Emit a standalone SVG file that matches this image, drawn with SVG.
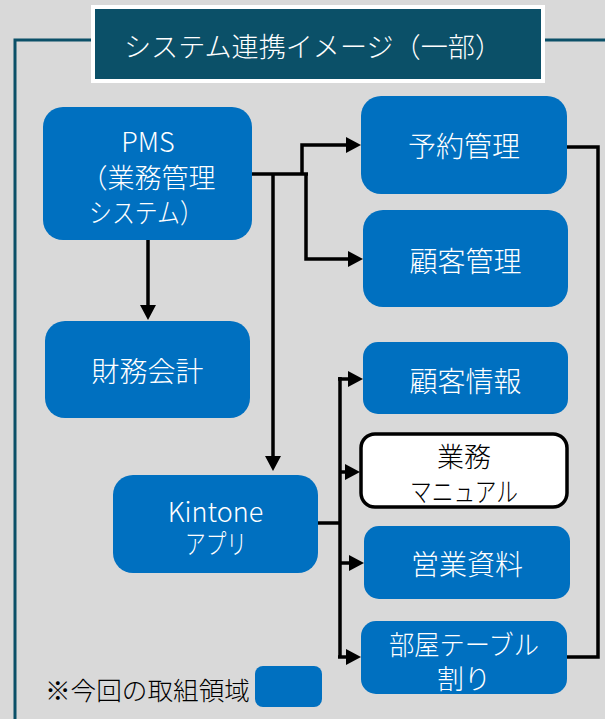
<svg xmlns="http://www.w3.org/2000/svg" width="605" height="719" viewBox="0 0 605 719">
<style>
.bg{fill:#d9d9d9}
.frame{fill:none;stroke:#0b5068;stroke-width:3}
.title{fill:#0b5068;stroke:#ffffff;stroke-width:4}
.node{fill:#0070c0}
.nodew{fill:#ffffff;stroke:#000000;stroke-width:3.5}
.t{font-family:"Noto Sans CJK JP","Noto Sans",sans-serif;font-weight:300;text-anchor:middle;dominant-baseline:central}
.tw{fill:#ffffff;font-size:28px}
.tw2{fill:#ffffff;font-size:27px}
.tb{fill:#000000;font-size:27px}
.tt{fill:#ffffff;font-size:27.5px}
.leg{font-family:"Noto Sans CJK JP","Noto Sans",sans-serif;font-weight:300;font-size:25px;fill:#000000;dominant-baseline:central}
.c{fill:none;stroke:#000000;stroke-width:3.5}
.ca{fill:none;stroke:#000000;stroke-width:3.5;marker-end:url(#arr)}
</style>
<defs>
<marker id="arr" markerUnits="userSpaceOnUse" viewBox="0 0 15 16" markerWidth="15" markerHeight="16" refX="5" refY="8" orient="auto">
<path d="M0,0 L15,8 L0,16 Z" fill="#000000"/>
</marker>
</defs>
<rect class="bg" x="0" y="0" width="605" height="719"/>
<g id="frame">
<path class="frame" d="M93,40 H15 V719"/>
<path class="frame" d="M545,40 H605"/>
</g>
<g id="title">
<rect class="title" x="93" y="7" width="450" height="74"/>
<text class="t tt" x="313" y="45" textLength="378" lengthAdjust="spacingAndGlyphs">システム連携イメージ（一部）</text>
</g>
<g id="connectors">
<path class="c" d="M252,174 H308"/>
<path class="ca" d="M302,174 V145 H351"/>
<path class="ca" d="M306,174 V259 H353"/>
<path class="ca" d="M273,174 V461"/>
<path class="ca" d="M148,240 V310"/>
<path class="c" d="M567,147 H598 V657 H567"/>
<path class="c" d="M318,523 H340"/>
<path class="c" d="M340,377 V658"/>
<path class="ca" d="M338,379 H353"/>
<path class="ca" d="M340,472 H350"/>
<path class="ca" d="M340,563 H354"/>
<path class="ca" d="M338,657 H351"/>
</g>
<g id="pms">
<rect class="node" x="43" y="107" width="209" height="133" rx="20"/>
<text class="t tw2" x="148" y="140">PMS</text>
<text class="t tw2" x="148" y="176">（業務管理</text>
<text class="t tw2" x="146" y="211" textLength="114" lengthAdjust="spacingAndGlyphs">システム）</text>
</g>
<g id="zaimu">
<rect class="node" x="45" y="321" width="205" height="97" rx="20"/>
<text class="t tw" x="147.5" y="370">財務会計</text>
</g>
<g id="kintone">
<rect class="node" x="113" y="475" width="205" height="98" rx="20"/>
<text class="t tw2" x="215.5" y="510">Kintone</text>
<text class="t tw2" x="216" y="542" textLength="62" lengthAdjust="spacingAndGlyphs">アプリ</text>
</g>
<g id="yoyaku">
<rect class="node" x="361" y="96" width="206" height="98" rx="20"/>
<text class="t tw" x="464" y="145">予約管理</text>
</g>
<g id="kokyaku-kanri">
<rect class="node" x="363" y="210" width="205" height="97" rx="20"/>
<text class="t tw" x="465.5" y="260">顧客管理</text>
</g>
<g id="kokyaku-joho">
<rect class="node" x="363" y="342" width="205" height="72" rx="15"/>
<text class="t tw" x="465.5" y="380">顧客情報</text>
</g>
<g id="manual">
<rect class="nodew" x="361" y="434" width="206" height="73" rx="14"/>
<text class="t tb" x="464" y="455">業務</text>
<text class="t tb" x="464" y="490" textLength="108" lengthAdjust="spacingAndGlyphs">マニュアル</text>
</g>
<g id="eigyo">
<rect class="node" x="364" y="526" width="206" height="73" rx="15"/>
<text class="t tw" x="467" y="563">営業資料</text>
</g>
<g id="heya">
<rect class="node" x="361" y="621" width="206" height="73" rx="15"/>
<text class="t tw2" x="464" y="643" textLength="150" lengthAdjust="spacingAndGlyphs">部屋テーブル</text>
<text class="t tw2" x="464" y="677">割り</text>
</g>
<g id="legend">
<text class="leg" x="45" y="689" textLength="205" lengthAdjust="spacingAndGlyphs">※今回の取組領域</text>
<rect class="node" x="255" y="666" width="67" height="41" rx="8"/>
</g>
</svg>
